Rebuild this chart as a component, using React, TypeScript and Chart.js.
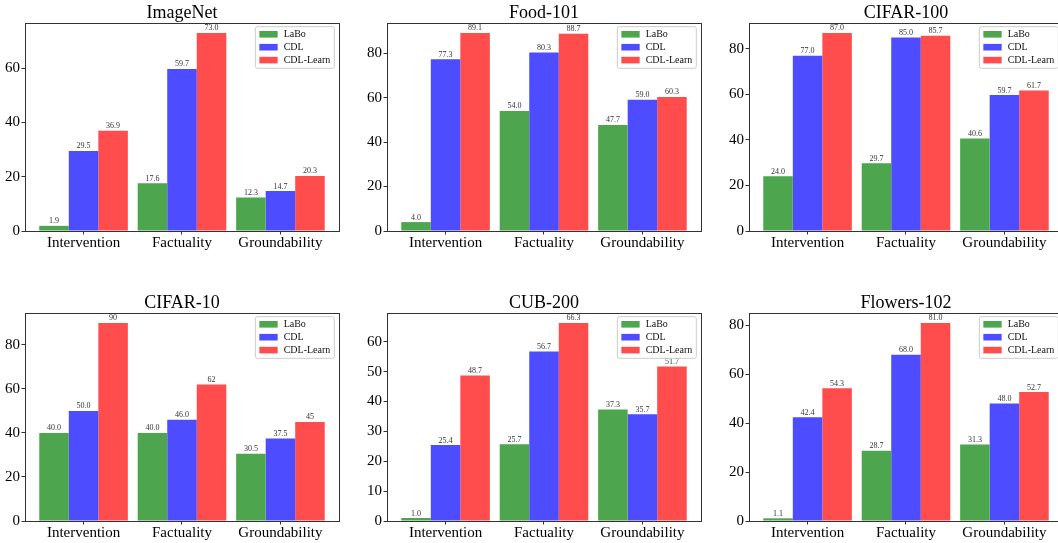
import React, { useEffect, useRef } from "react";
import { Chart, registerables } from "chart.js";

Chart.register(...registerables);

const FONT = "'Liberation Serif', 'Times New Roman', serif";

const categories = ["Intervention", "Factuality", "Groundability"];
const seriesNames = ["LaBo", "CDL", "CDL-Learn"];
const seriesColors = ["#4DA64D", "#4D4DFF", "#FF4D4D"];

// ImageNet
const imagenetLaBo = [1.9, 17.6, 12.3];
const imagenetCDL = [29.5, 59.7, 14.7];
const imagenetLearn = [36.9, 73.0, 20.3];
// Food-101
const foodLaBo = [4.0, 54.0, 47.7];
const foodCDL = [77.3, 80.3, 59.0];
const foodLearn = [89.1, 88.7, 60.3];
// CIFAR-100
const cifar100LaBo = [24.0, 29.7, 40.6];
const cifar100CDL = [77.0, 85.0, 59.7];
const cifar100Learn = [87.0, 85.7, 61.7];
// CIFAR-10
const cifar10LaBo = [40.0, 40.0, 30.5];
const cifar10CDL = [50.0, 46.0, 37.5];
const cifar10Learn = [90, 62, 45];
// CUB-200
const cubLaBo = [1.0, 25.7, 37.3];
const cubCDL = [25.4, 56.7, 35.7];
const cubLearn = [48.7, 66.3, 51.7];
// Flowers-102
const flowersLaBo = [1.1, 28.7, 31.3];
const flowersCDL = [42.4, 68.0, 48.0];
const flowersLearn = [54.3, 81.0, 52.7];

// y tick labels
const ticks20to60 = [0, 20, 40, 60];
const ticks20to80 = [0, 20, 40, 60, 80];
const ticks10to60 = [0, 10, 20, 30, 40, 50, 60];

// decimals used in value labels per series
const decOne = [1, 1, 1];
const decCifar10 = [1, 1, 0];

const panels = [
  { title: "ImageNet", series: [imagenetLaBo, imagenetCDL, imagenetLearn], yTicks: ticks20to60, dec: decOne, col: 0, row: 0 },
  { title: "Food-101", series: [foodLaBo, foodCDL, foodLearn], yTicks: ticks20to80, dec: decOne, col: 1, row: 0 },
  { title: "CIFAR-100", series: [cifar100LaBo, cifar100CDL, cifar100Learn], yTicks: ticks20to80, dec: decOne, col: 2, row: 0 },
  { title: "CIFAR-10", series: [cifar10LaBo, cifar10CDL, cifar10Learn], yTicks: ticks20to80, dec: decCifar10, col: 0, row: 1 },
  { title: "CUB-200", series: [cubLaBo, cubCDL, cubLearn], yTicks: ticks10to60, dec: decOne, col: 1, row: 1 },
  { title: "Flowers-102", series: [flowersLaBo, flowersCDL, flowersLearn], yTicks: ticks20to80, dec: decOne, col: 2, row: 1 },
];

const COL_LEFT = [0, 362, 724];
const ROW_TOP = [0, 290];
const AXIS_W = 25;
const PLOT_W = 314;
const RIGHT_PAD = 5;
const TITLE_H = 23;
const PLOT_H = 208;
const XAXIS_H = 25;
const CANVAS_W = AXIS_W + PLOT_W + RIGHT_PAD;
const CANVAS_H = TITLE_H + PLOT_H + XAXIS_H;

function Panel({ panel }: { panel: any }) {
  const ref = useRef<HTMLCanvasElement | null>(null);
  useEffect(() => {
    if (!ref.current) return;
    const allVals = panel.series.flat();
    const yMax = Math.max(...allVals) * 1.05;
    const overlay = {
      id: "overlay",
      afterDatasetsDraw(chart: any) {
        const ctx = chart.ctx;
        const a = chart.chartArea;
        ctx.save();
        // value labels
        ctx.font = `8px ${FONT}`;
        ctx.fillStyle = "#333";
        ctx.textAlign = "center";
        ctx.textBaseline = "alphabetic";
        chart.data.datasets.forEach((ds: any, di: number) => {
          const meta = chart.getDatasetMeta(di);
          meta.data.forEach((bar: any, i: number) => {
            const v = ds.data[i].y;
            ctx.fillText(v.toFixed(panel.dec[di]), bar.x, bar.y - 2.5);
          });
        });
        // spines
        ctx.strokeStyle = "#333";
        ctx.lineWidth = 1;
        const l = Math.round(a.left), t = Math.round(a.top), r = Math.round(a.right), b = Math.round(a.bottom);
        ctx.strokeRect(l + 0.5, t + 0.5, r - l, b - t);
        // legend
        ctx.font = `10px ${FONT}`;
        const tw = Math.max(...seriesNames.map((n) => ctx.measureText(n).width));
        const bw = 4 + 18.3 + 6 + tw + 4;
        const bh = 41.6;
        const bx = a.right - 4.7 - bw;
        const by = a.top + 3.7;
        ctx.beginPath();
        if (ctx.roundRect) ctx.roundRect(bx, by, bw, bh, 2);
        else ctx.rect(bx, by, bw, bh);
        ctx.fillStyle = "rgba(255,255,255,0.8)";
        ctx.fill();
        ctx.strokeStyle = "#cccccc";
        ctx.lineWidth = 1;
        ctx.stroke();
        seriesNames.forEach((name, k) => {
          const cy = by + 7.6 + k * 12.9;
          ctx.fillStyle = seriesColors[k];
          ctx.fillRect(bx + 4, cy - 3.3, 18.3, 6.6);
          ctx.fillStyle = "#111";
          ctx.textAlign = "left";
          ctx.textBaseline = "middle";
          ctx.fillText(name, bx + 4 + 18.3 + 6, cy);
        });
        ctx.restore();
      },
    };
    const chart = new Chart(ref.current, {
      type: "bar",
      data: {
        datasets: panel.series.map((vals: number[], k: number) => ({
          label: seriesNames[k],
          data: vals.map((v, i) => ({ x: i, y: v })),
          backgroundColor: seriesColors[k],
          borderWidth: 0,
          categoryPercentage: 0.9,
          barPercentage: 1.0,
        })),
      },
      options: {
        animation: false,
        responsive: false,
        devicePixelRatio: 1,
        layout: { padding: { left: 0, right: RIGHT_PAD, top: 0, bottom: 0 } },
        plugins: {
          legend: { display: false },
          tooltip: { enabled: false },
          title: {
            display: true,
            text: panel.title,
            fullSize: false,
            color: "#000",
            font: { family: FONT, size: 18, weight: "normal", lineHeight: 20 / 18 },
            padding: { top: 3, bottom: 0 },
          },
        },
        scales: {
          x: {
            type: "linear",
            min: -0.595,
            max: 2.595,
            offset: false,
            afterBuildTicks: (s: any) => {
              s.ticks = categories.map((_, i) => ({ value: i }));
            },
            afterFit: (s: any) => {
              s.height = XAXIS_H;
            },
            ticks: {
              autoSkip: false,
              maxRotation: 0,
              padding: 0,
              color: "#000",
              font: { family: FONT, size: 15 },
              callback: (v: any) => categories[v] ?? "",
            },
            grid: { display: true, offset: false, drawOnChartArea: false, drawTicks: true, tickLength: 3.5, tickColor: "#333" },
            border: { display: false },
          },
          y: {
            type: "linear",
            min: 0,
            max: yMax,
            afterBuildTicks: (s: any) => {
              s.ticks = panel.yTicks.map((v: number) => ({ value: v }));
            },
            afterFit: (s: any) => {
              s.width = AXIS_W;
            },
            ticks: {
              padding: 1.5,
              color: "#000",
              font: { family: FONT, size: 15 },
              callback: (v: any) => String(v),
            },
            grid: { display: true, offset: false, drawOnChartArea: false, drawTicks: true, tickLength: 3.5, tickColor: "#333" },
            border: { display: false },
          },
        },
      },
      plugins: [overlay],
    } as any);
    return () => chart.destroy();
  }, [panel]);
  return (
    <div
      style={{
        position: "absolute",
        left: COL_LEFT[panel.col],
        top: ROW_TOP[panel.row],
        width: CANVAS_W,
        height: CANVAS_H,
      }}
    >
      <canvas ref={ref} width={CANVAS_W} height={CANVAS_H} style={{ width: CANVAS_W, height: CANVAS_H, display: "block" }} />
    </div>
  );
}

export default function App() {
  return (
    <div
      style={{
        position: "fixed",
        left: 0,
        top: 0,
        width: 1058,
        height: 543,
        overflow: "hidden",
        background: "#fff",
      }}
    >
      {panels.map((p) => (
        <Panel key={p.title} panel={p} />
      ))}
    </div>
  );
}
